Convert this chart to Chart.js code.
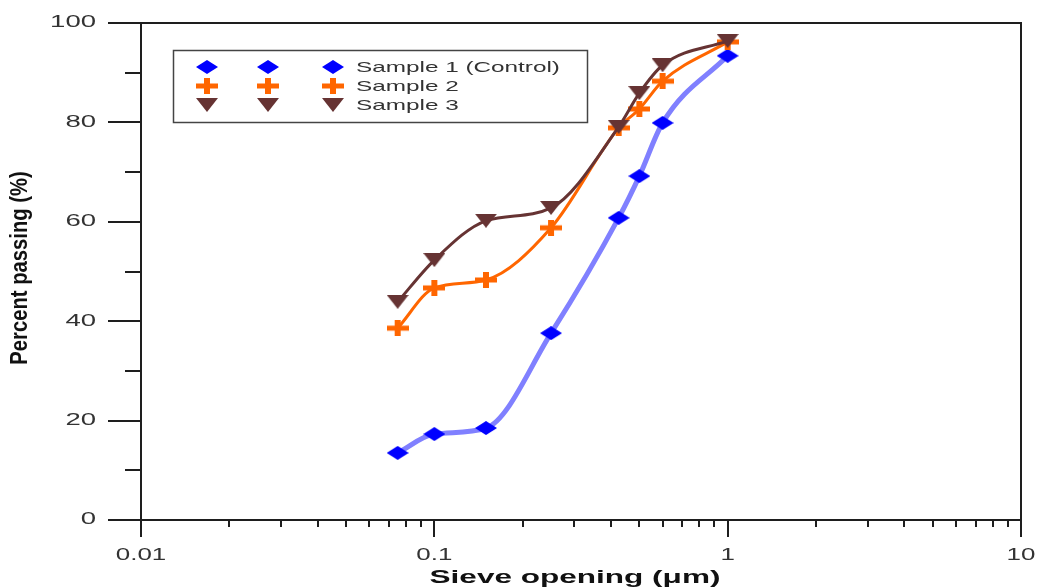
<!DOCTYPE html>
<html>
<head>
<meta charset="utf-8">
<script src="https://cdn.jsdelivr.net/npm/chart.js@4.4.1/dist/chart.umd.min.js"></script>
<style>
  html, body { margin: 0; padding: 0; background: #fff; }
  #wrap { width: 1039px; height: 588px; }
</style>
</head>
<body>
<div id="wrap"><canvas id="chart" width="1039" height="588"></canvas></div>
<script>
// sieve sizes and percent passing
const sieveSizes = [0.075, 0.1, 0.15, 0.25, 0.425, 0.5, 0.6, 1];
const sample1 = [13.5, 17.3, 18.5, 37.6, 60.8, 69.2, 79.9, 93.4];
const sample2 = [38.6, 46.7, 48.3, 58.8, 78.9, 82.7, 88.3, 96.2];
const sample3 = [43.9, 52.3, 60.2, 62.8, 79.1, 85.9, 91.5, 96.4];
const seriesNames = ['Sample 1 (Control)', 'Sample 2', 'Sample 3'];
const xMajorTicks = [0.01, 0.1, 1, 10];
const xTickLabels = ['0.01', '0.1', '1', '10'];
const yMajorTicks = [0, 20, 40, 60, 80, 100];
const yMinorTicks = [10, 30, 50, 70, 90];

const FONT = "'Liberation Sans', Arial, sans-serif";

// small canvases used as point styles (the original is stretched sideways)
function makeMarker(shape, color) {
  const c = document.createElement('canvas');
  const w = 22, h = shape === 'plus' ? 16 : 14;
  c.width = w; c.height = h;
  const g = c.getContext('2d');
  g.fillStyle = color;
  g.beginPath();
  if (shape === 'diamond') {
    g.moveTo(w / 2, 0); g.lineTo(w, h / 2); g.lineTo(w / 2, h); g.lineTo(0, h / 2);
    g.closePath(); g.fill();
  } else if (shape === 'plus') {
    g.fillRect(0, (h - 5) / 2, w, 5);
    g.fillRect((w - 6) / 2, 0, 6, h);
  } else {
    g.moveTo(0, 0); g.lineTo(w, 0); g.lineTo(w / 2, h);
    g.closePath(); g.fill();
  }
  return c;
}

const markers = [
  makeMarker('diamond', '#0000ff'),
  makeMarker('plus', '#ff6600'),
  makeMarker('triangle', '#663333')
];
const lineColors = ['#8080ff', '#ff6600', '#663333'];
const lineWidths = [5, 3, 3];
const seriesValues = [sample1, sample2, sample3];

function stretchedText(ctx, text, x, y, sx, align) {
  ctx.save();
  ctx.translate(x, y);
  ctx.scale(sx, 1);
  ctx.textAlign = align;
  ctx.fillText(text, 0, 0);
  ctx.restore();
}

const framePlugin = {
  id: 'framePlugin',
  afterDraw(chart) {
    const {ctx, chartArea: a, scales: {x, y}} = chart;
    ctx.save();
    ctx.strokeStyle = '#1e1e1e';
    ctx.lineWidth = 2;
    ctx.strokeRect(a.left, a.top, a.right - a.left, a.bottom - a.top);

    ctx.beginPath();
    yMajorTicks.forEach(v => {
      const py = Math.round(y.getPixelForValue(v));
      ctx.moveTo(a.left - 33, py); ctx.lineTo(a.left, py);
    });
    yMinorTicks.forEach(v => {
      const py = Math.round(y.getPixelForValue(v));
      ctx.moveTo(a.left - 16, py); ctx.lineTo(a.left, py);
    });
    xMajorTicks.forEach(v => {
      const px = Math.round(x.getPixelForValue(v));
      ctx.moveTo(px, a.bottom); ctx.lineTo(px, a.bottom + 17);
    });
    for (let d = 0.01; d < 10; d *= 10) {
      for (let k = 2; k <= 9; k++) {
        const px = Math.round(x.getPixelForValue(d * k));
        ctx.moveTo(px, a.bottom); ctx.lineTo(px, a.bottom + 7);
      }
    }
    ctx.stroke();

    // tick labels
    ctx.fillStyle = '#333';
    ctx.font = '16px ' + FONT;
    ctx.textBaseline = 'middle';
    yMajorTicks.forEach(v => {
      stretchedText(ctx, String(v), 96, y.getPixelForValue(v), 1.72, 'right');
    });
    xMajorTicks.forEach((v, i) => {
      stretchedText(ctx, xTickLabels[i], x.getPixelForValue(v), 556, 1.62, 'center');
    });

    // axis titles
    ctx.fillStyle = '#111';
    ctx.font = 'bold 19px ' + FONT;
    ctx.textBaseline = 'alphabetic';
    stretchedText(ctx, 'Sieve opening (\u03bcm)', (a.left + a.right) / 2 - 6, 583, 1.66, 'center');

    ctx.save();
    ctx.translate(27, 268);
    ctx.rotate(-Math.PI / 2);
    ctx.scale(0.92, 1.1);
    ctx.font = 'bold 22px ' + FONT;
    ctx.textAlign = 'center';
    ctx.fillText('Percent passing (%)', 0, 0);
    ctx.restore();

    // legend
    ctx.strokeStyle = '#444';
    ctx.lineWidth = 1.5;
    ctx.strokeRect(173.5, 50.5, 414, 72);
    const rowY = [67, 86, 105];
    ctx.fillStyle = '#333';
    ctx.font = '15px ' + FONT;
    ctx.textBaseline = 'middle';
    seriesNames.forEach((name, i) => {
      [207, 268, 333].forEach(mx => {
        const m = markers[i];
        ctx.drawImage(m, mx - m.width / 2, rowY[i] - m.height / 2);
      });
      stretchedText(ctx, name, 356, rowY[i] + 1, 1.62, 'left');
    });
    ctx.restore();
  }
};

const datasets = seriesValues.map((vals, i) => ({
  label: seriesNames[i],
  data: sieveSizes.map((s, j) => ({x: s, y: vals[j]})),
  borderColor: lineColors[i],
  backgroundColor: lineColors[i],
  borderWidth: lineWidths[i],
  pointStyle: markers[i],
  pointRadius: 6,
  pointHoverRadius: 6,
  cubicInterpolationMode: 'monotone',
  fill: false,
  order: 2 - i
}));

new Chart(document.getElementById('chart'), {
  type: 'line',
  data: { datasets: datasets },
  options: {
    responsive: false,
    animation: false,
    devicePixelRatio: 1,
    layout: { padding: { top: 23, right: 18, left: 0, bottom: 0 } },
    plugins: { legend: { display: false }, tooltip: { enabled: false } },
    scales: {
      x: {
        type: 'logarithmic',
        min: 0.01,
        max: 10,
        ticks: { display: false },
        grid: { display: false },
        border: { display: false },
        afterFit(scale) { scale.height = 68; }
      },
      y: {
        min: 0,
        max: 100,
        ticks: { display: false },
        grid: { display: false },
        border: { display: false },
        afterFit(scale) { scale.width = 141; }
      }
    }
  },
  plugins: [framePlugin]
});
</script>
</body>
</html>
